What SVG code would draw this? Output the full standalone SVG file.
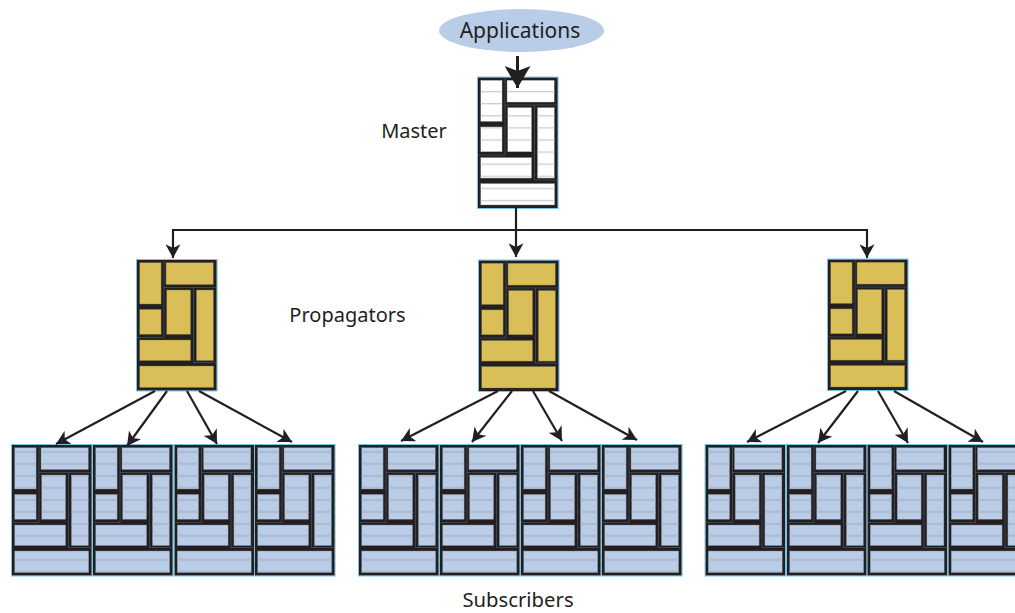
<svg xmlns="http://www.w3.org/2000/svg" width="1015" height="613" viewBox="0 0 1015 613">
<style>
text{font-family:"Noto Sans","Open Sans",sans-serif;font-size:20px;fill:#231f20;text-anchor:middle}
.frame{fill:#231f20}
.edge{fill:none;stroke:#6cc4e8;stroke-width:.9}
.seam{fill:none;stroke:#5f7f96;stroke-width:.6;opacity:.7}
.conn{fill:none;stroke:#231f20;stroke-width:2.2}
.thin{marker-end:url(#head)}
.wide{stroke-width:3;marker-end:url(#bighead)}
</style>
<defs>
<marker id="head" markerUnits="userSpaceOnUse" markerWidth="15" markerHeight="15" refX="11" refY="6" orient="auto" viewBox="0 0 12 12"><path d="M0 0L11 6L0 12L3 6Z" fill="#231f20"/></marker>
<marker id="bighead" markerUnits="userSpaceOnUse" markerWidth="26" markerHeight="26" refX="22" refY="13" orient="auto" viewBox="0 0 26 26"><path d="M0 0L22 13L0 26L5 13Z" fill="#231f20"/></marker>
<pattern id="stripeSub" patternUnits="userSpaceOnUse" width="80" height="12"><rect y="6.700" width="80" height="1.400" fill="#a9aeb8"/></pattern>
<pattern id="stripeMaster" patternUnits="userSpaceOnUse" width="80" height="12.100"><rect y="2" width="80" height="1.100" fill="#c4c5c7"/></pattern>
<g id="cells">
<rect x="3.200" y="3.200" width="21.400" height="41.300"/>
<rect x="29.500" y="3.200" width="47.300" height="21.900"/>
<rect x="3.200" y="49.900" width="21.400" height="24.900"/>
<rect x="30.200" y="30.500" width="23.900" height="44.300"/>
<rect x="59.900" y="30.500" width="17" height="70.600"/>
<rect x="3.200" y="80.500" width="50.900" height="20.600"/>
<rect x="3.200" y="106.500" width="74" height="21.500"/>
</g>
<path id="seams" class="seam" d="M27.500 1V78H1M27.500 28H79M57 28V103H79"/>
<g id="base"><rect class="frame" x="0.300" y="0.300" width="80" height="130.900"/></g>
<g id="boxMaster"><use href="#base"/><use href="#cells" fill="#fff" stroke="#6d6e71" stroke-width=".4"/><use href="#cells" fill="url(#stripeMaster)"/><use href="#seams"/><rect class="edge" width="80.600" height="131.500"/></g>
<g id="boxProp"><use href="#base"/><use href="#cells" fill="#dabf58" stroke="#75683c" stroke-width=".4"/><use href="#seams"/><rect class="edge" width="80.600" height="131.500"/></g>
<g id="boxSub"><use href="#base"/><use href="#cells" fill="#b9cde9" stroke="#77797d" stroke-width=".4"/><use href="#cells" fill="url(#stripeSub)"/><use href="#seams"/><rect class="edge" width="80.600" height="131.500"/></g>
</defs>

<g id="applications"><ellipse cx="521.500" cy="30.500" rx="82.500" ry="21.500" fill="#b9cde9"/><text x="520" y="37.500" style="font-size:21px">Applications</text></g>
<g id="master-label"><text x="414" y="137.500">Master</text></g>
<g id="propagators-label"><text x="347.500" y="321.500">Propagators</text></g>
<g id="subscribers-label"><text x="518" y="607" style="font-size:20.300px">Subscribers</text></g>

<g id="master" transform="translate(477.500 77)"><use href="#boxMaster"/></g>
<g id="propagator-1" transform="translate(136.500 259.500)"><use href="#boxProp"/></g>
<g id="propagator-2" transform="translate(478.500 260)"><use href="#boxProp"/></g>
<g id="propagator-3" transform="translate(827.500 259)"><use href="#boxProp"/></g>

<g id="subscriber-1" transform="translate(11.500 444.500)"><use href="#boxSub"/></g>
<g id="subscriber-2" transform="translate(92.500 444.500)"><use href="#boxSub"/></g>
<g id="subscriber-3" transform="translate(174 444.500)"><use href="#boxSub"/></g>
<g id="subscriber-4" transform="translate(254.500 444.500)"><use href="#boxSub"/></g>
<g id="subscriber-5" transform="translate(358.500 444.500)"><use href="#boxSub"/></g>
<g id="subscriber-6" transform="translate(439.500 444.500)"><use href="#boxSub"/></g>
<g id="subscriber-7" transform="translate(520.500 444.500)"><use href="#boxSub"/></g>
<g id="subscriber-8" transform="translate(601.500 444.500)"><use href="#boxSub"/></g>
<g id="subscriber-9" transform="translate(705 444.500)"><use href="#boxSub"/></g>
<g id="subscriber-10" transform="translate(786.500 444.500)"><use href="#boxSub"/></g>
<g id="subscriber-11" transform="translate(867 444.500)"><use href="#boxSub"/></g>
<g id="subscriber-12" transform="translate(948 444.500)"><use href="#boxSub"/></g>

<g id="connectors">
<path class="conn thin" d="M516 208V257"/>
<path class="conn thin" d="M516 230H173V258"/>
<path class="conn thin" d="M516 230H867V258"/>
<path class="conn wide" d="M517.500 56V88"/>
<path class="conn thin" d="M155 391L56 444"/>
<path class="conn thin" d="M167 391L127 446"/>
<path class="conn thin" d="M187 391L217 444"/>
<path class="conn thin" d="M199 391L292 442"/>
<path class="conn thin" d="M498 391L401 441"/>
<path class="conn thin" d="M512 391L472 442"/>
<path class="conn thin" d="M533 391L562 441"/>
<path class="conn thin" d="M549 391L637 440"/>
<path class="conn thin" d="M846 391L747 442"/>
<path class="conn thin" d="M858 391L818 443"/>
<path class="conn thin" d="M878 391L908 443"/>
<path class="conn thin" d="M894 391L983 442"/>
</g>
</svg>
